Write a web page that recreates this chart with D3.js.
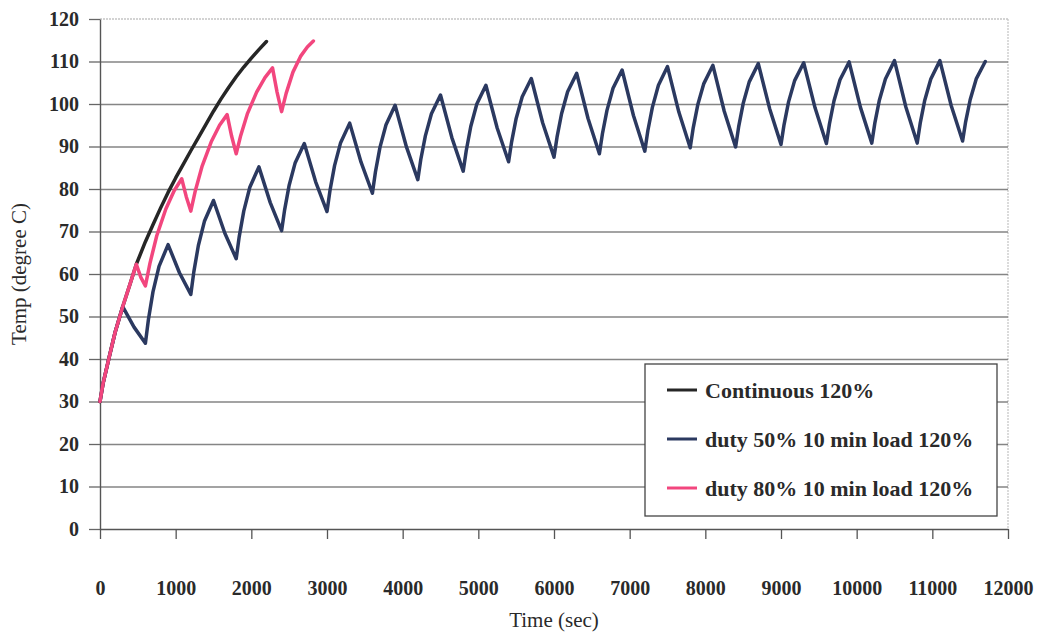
<!DOCTYPE html>
<html>
<head>
<meta charset="utf-8">
<script src="https://cdn.jsdelivr.net/npm/d3@7"></script>
<style>
  body { margin: 0; background: #fff; }
  svg { display: block; }
  text { font-family: "Liberation Serif", "Times New Roman", serif; fill: #2a2a2a; }
</style>
</head>
<body>
<svg id="chart" width="1041" height="634"></svg>
<script>
// Axis ticks
const xTicks = [0, 1000, 2000, 3000, 4000, 5000, 6000, 7000, 8000, 9000, 10000, 11000, 12000];
const yTicks = [0, 10, 20, 30, 40, 50, 60, 70, 80, 90, 100, 110, 120];

// Series labels and colours
const seriesNames = ["Continuous 120%", "duty 50% 10 min load 120%", "duty 80% 10 min load 120%"];
const seriesColors = ["#262626", "#2b3960", "#f2467e"];

// Continuous 120% load: time (s) and temperature (deg C)
const contTime = [0, 40, 120, 200, 300, 400, 480, 600, 700, 800, 900, 1000, 1100, 1200, 1300, 1400,
  1500, 1600, 1700, 1800, 1900, 2000, 2100, 2200];
const contTemp = [30, 34.2, 40.3, 46.3, 52.3, 57.8, 62.3, 67.6, 71.6, 75.5, 79.2, 82.6, 85.8, 89.0, 92.1, 95.2,
  98.3, 101.2, 103.9, 106.4, 108.7, 110.8, 112.8, 114.7];

// 50% duty, 10 min cycle
const duty50Time = [0, 40, 120, 200, 300, 450,
  600, 640, 700, 780, 900, 1050,
  1200, 1240, 1300, 1380, 1500, 1650,
  1800, 1840, 1900, 1980, 2100, 2250,
  2400, 2440, 2500, 2580, 2700, 2850,
  3000, 3040, 3100, 3180, 3300, 3450,
  3600, 3640, 3700, 3780, 3900, 4050,
  4200, 4240, 4300, 4380, 4500, 4650,
  4800, 4840, 4900, 4980, 5100, 5250,
  5400, 5440, 5500, 5580, 5700, 5850,
  6000, 6040, 6100, 6180, 6300, 6450,
  6600, 6640, 6700, 6780, 6900, 7050,
  7200, 7240, 7300, 7380, 7500, 7650,
  7800, 7840, 7900, 7980, 8100, 8250,
  8400, 8440, 8500, 8580, 8700, 8850,
  9000, 9040, 9100, 9180, 9300, 9450,
  9600, 9640, 9700, 9780, 9900, 10050,
  10200, 10240, 10300, 10380, 10500, 10650,
  10800, 10840, 10900, 10980, 11100, 11250,
  11400, 11440, 11500, 11580, 11700];
const duty50Temp = [30, 34.2, 40.3, 46.3, 52.3, 47.5,
  43.7, 49.3, 55.8, 61.8, 66.9, 60.3,
  55.2, 60.5, 66.7, 72.4, 77.3, 69.6,
  63.6, 68.8, 74.8, 80.4, 85.2, 76.8,
  70.2, 75.1, 80.9, 86.2, 90.7, 81.7,
  74.7, 79.7, 85.5, 90.9, 95.5, 86.3,
  79.0, 84.0, 89.8, 95.1, 99.7, 89.9,
  82.2, 87.0, 92.5, 97.7, 102.1, 92.1,
  84.2, 89.0, 94.7, 100.0, 104.4, 94.3,
  86.4, 91.1, 96.6, 101.7, 106.0, 95.6,
  87.5, 92.2, 97.7, 102.9, 107.2, 96.6,
  88.3, 93.0, 98.5, 103.7, 108.0, 97.3,
  88.9, 93.7, 99.2, 104.4, 108.8, 98.1,
  89.7, 94.4, 99.8, 104.8, 109.1, 98.3,
  89.9, 94.6, 100.1, 105.2, 109.5, 98.9,
  90.5, 95.1, 100.5, 105.5, 109.7, 99.1,
  90.7, 95.3, 100.7, 105.7, 109.9, 99.2,
  90.8, 95.5, 100.9, 105.9, 110.2, 99.3,
  90.8, 95.5, 100.9, 105.9, 110.2, 99.6,
  91.3, 95.8, 101.0, 105.9, 110.0];

// 80% duty, 10 min cycle
const duty80Time = [0, 40, 120, 200, 300, 400, 480, 540,
  600, 660, 750, 870, 980, 1080, 1140,
  1200, 1260, 1350, 1470, 1580, 1680, 1740,
  1800, 1860, 1950, 2070, 2180, 2280, 2340,
  2400, 2460, 2550, 2650, 2740, 2820];
const duty80Temp = [30, 34.2, 40.3, 46.3, 52.3, 57.8, 62.3, 59.2,
  57.2, 62.5, 69.0, 75.3, 79.6, 82.4, 78.2,
  74.8, 79.6, 85.4, 91.1, 95.0, 97.5, 92.4,
  88.3, 92.6, 97.8, 102.8, 106.2, 108.5, 102.8,
  98.2, 102.5, 107.5, 111.2, 113.4, 114.8];

const svg = d3.select("#chart");
const plotLeft = 100, plotRight = 1008, plotTop = 19, plotBottom = 529;

const x = d3.scaleLinear().domain([0, 12000]).range([plotLeft, plotRight]);
const y = d3.scaleLinear().domain([0, 120]).range([plotBottom, plotTop]);

// plot frame (top and right edges)
svg.append("line").attr("x1", plotLeft).attr("x2", plotRight).attr("y1", y(120)).attr("y2", y(120))
  .attr("stroke", "#a8a8a8").attr("stroke-width", 1.2).attr("stroke-dasharray", "2,1");
svg.append("line").attr("x1", plotRight).attr("x2", plotRight).attr("y1", plotTop).attr("y2", plotBottom)
  .attr("stroke", "#c4c4c4").attr("stroke-width", 1.2).attr("stroke-dasharray", "2,1");

// horizontal gridlines
const grid = svg.append("g").attr("transform", `translate(${plotLeft},0)`)
  .call(d3.axisLeft(y).tickValues(yTicks.filter(v => v > 0 && v < 120))
    .tickSize(-(plotRight - plotLeft)).tickFormat(""));
grid.select(".domain").remove();
grid.selectAll(".tick line").attr("stroke", "#858585").attr("stroke-width", 1.4);

// y axis
const yAxis = svg.append("g").attr("transform", `translate(${plotLeft},0)`)
  .call(d3.axisLeft(y).tickValues(yTicks).tickSize(11).tickPadding(10).tickSizeOuter(0));
yAxis.select(".domain").attr("stroke", "#555").attr("stroke-width", 1.4);
yAxis.selectAll(".tick line").attr("stroke", "#666").attr("stroke-width", 1.3);
yAxis.selectAll(".tick text").attr("font-size", 20).attr("font-weight", "bold")
  .attr("font-family", "Liberation Serif").attr("fill", "#2a2a2a");

// x axis
const xAxis = svg.append("g").attr("transform", `translate(0,${plotBottom})`)
  .call(d3.axisBottom(x).tickValues(xTicks).tickSize(10).tickSizeOuter(0).tickFormat(d3.format("d")));
xAxis.select(".domain").attr("stroke", "#555").attr("stroke-width", 1.4);
xAxis.selectAll(".tick line").attr("stroke", "#555").attr("stroke-width", 1.3);
xAxis.selectAll(".tick text").attr("font-size", 20).attr("font-weight", "bold")
  .attr("font-family", "Liberation Serif").attr("fill", "#2a2a2a")
  .attr("y", 66).attr("dy", null);

// axis titles
svg.append("text").attr("x", (plotLeft + plotRight) / 2).attr("y", 627)
  .attr("text-anchor", "middle").attr("font-size", 21).text("Time (sec)");
svg.append("text").attr("transform", `translate(26,${(plotTop + plotBottom) / 2}) rotate(-90)`)
  .attr("text-anchor", "middle").attr("font-size", 21).text("Temp (degree C)");

// curves: continuous first, then 50% duty, 80% duty on top
const line = d3.line().x(d => x(d[0])).y(d => y(d[1])).curve(d3.curveLinear);
const series = [
  d3.zip(contTime, contTemp),
  d3.zip(duty50Time, duty50Temp),
  d3.zip(duty80Time, duty80Temp)
];
[0, 1, 2].forEach(i => {
  svg.append("path").datum(series[i])
    .attr("fill", "none").attr("stroke", seriesColors[i]).attr("stroke-width", 3.5)
    .attr("stroke-linejoin", "round").attr("stroke-linecap", "round")
    .attr("d", line);
});

// legend
const legend = svg.append("g").attr("transform", "translate(645,364)");
legend.append("rect").attr("width", 352).attr("height", 152)
  .attr("fill", "#fff").attr("stroke", "#444").attr("stroke-width", 1.3);
seriesNames.forEach((name, i) => {
  const ly = 26 + i * 49;
  legend.append("line").attr("x1", 22).attr("x2", 52).attr("y1", ly).attr("y2", ly)
    .attr("stroke", seriesColors[i]).attr("stroke-width", 3);
  legend.append("text").attr("x", 60).attr("y", ly + 8)
    .attr("font-size", 22).attr("font-weight", "bold").text(name);
});
</script>
</body>
</html>
